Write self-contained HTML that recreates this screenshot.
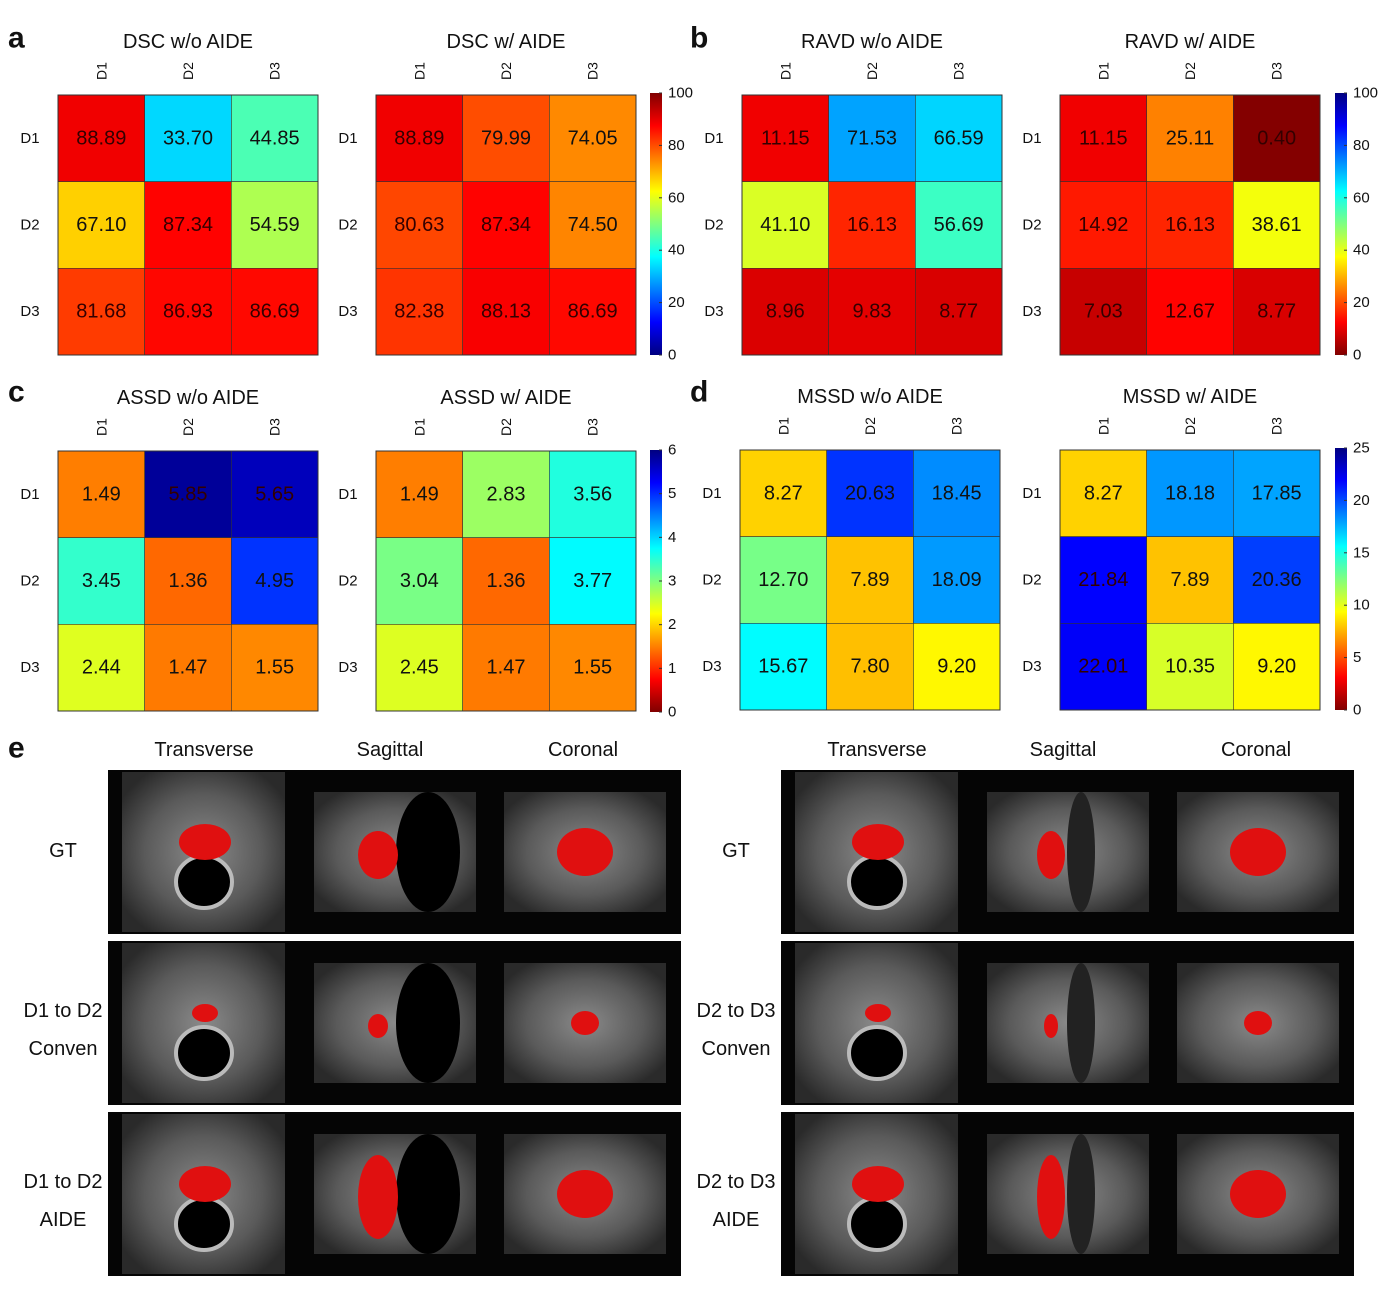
<!DOCTYPE html>
<html><head><meta charset="utf-8"><style>
html,body{margin:0;padding:0;background:#fff;}
svg{display:block;font-family:"Liberation Sans",Arial,sans-serif;}
</style></head><body>
<svg id="fig" width="1387" height="1290" viewBox="0 0 1387 1290" xmlns="http://www.w3.org/2000/svg">
<defs>
<linearGradient id="jetUp" x1="0" y1="1" x2="0" y2="0">
<stop offset="0" stop-color="#000080"/><stop offset="0.125" stop-color="#0000ff"/><stop offset="0.375" stop-color="#00ffff"/><stop offset="0.625" stop-color="#ffff00"/><stop offset="0.875" stop-color="#ff0000"/><stop offset="1" stop-color="#800000"/>
</linearGradient>
<linearGradient id="jetDown" x1="0" y1="0" x2="0" y2="1">
<stop offset="0" stop-color="#000080"/><stop offset="0.125" stop-color="#0000ff"/><stop offset="0.375" stop-color="#00ffff"/><stop offset="0.625" stop-color="#ffff00"/><stop offset="0.875" stop-color="#ff0000"/><stop offset="1" stop-color="#800000"/>
</linearGradient>
<radialGradient id="mri" cx="0.5" cy="0.5" r="0.6">
<stop offset="0" stop-color="#8a8a8a"/><stop offset="0.6" stop-color="#5a5a5a"/><stop offset="1" stop-color="#2a2a2a"/>
</radialGradient>
</defs>
<g id="root"></g>
</svg>
<script>
const domains = ['D1','D2','D3'];
const dscWo = [[88.89,33.70,44.85],[67.10,87.34,54.59],[81.68,86.93,86.69]];
const dscW = [[88.89,79.99,74.05],[80.63,87.34,74.50],[82.38,88.13,86.69]];
const ravdWo = [[11.15,71.53,66.59],[41.10,16.13,56.69],[8.96,9.83,8.77]];
const ravdW = [[11.15,25.11,0.40],[14.92,16.13,38.61],[7.03,12.67,8.77]];
const assdWo = [[1.49,5.85,5.65],[3.45,1.36,4.95],[2.44,1.47,1.55]];
const assdW = [[1.49,2.83,3.56],[3.04,1.36,3.77],[2.45,1.47,1.55]];
const mssdWo = [[8.27,20.63,18.45],[12.70,7.89,18.09],[15.67,7.80,9.20]];
const mssdW = [[8.27,18.18,17.85],[21.84,7.89,20.36],[22.01,10.35,9.20]];
const dscTicks = [0,20,40,60,80,100];
const ravdTicks = [0,20,40,60,80,100];
const assdTicks = [0,1,2,3,4,5,6];
const mssdTicks = [0,5,10,15,20,25];
const viewNames = ['Transverse','Sagittal','Coronal'];
const rowLabelsLeft = [['GT'],['D1 to D2','Conven'],['D1 to D2','AIDE']];
const rowLabelsRight = [['GT'],['D2 to D3','Conven'],['D2 to D3','AIDE']];

const NS='http://www.w3.org/2000/svg';
const root=document.getElementById('root');
function mk(tag,attrs,parent){const e=document.createElementNS(NS,tag);for(const k in attrs)e.setAttribute(k,attrs[k]);(parent||root).appendChild(e);return e;}
function txt(x,y,s,size,parent,extra){const t=mk('text',Object.assign({x:x,y:y,'font-size':size,'text-anchor':'middle','dominant-baseline':'central',fill:'#111'},extra||{}),parent);t.textContent=s;return t;}
function clamp(v){return Math.max(0,Math.min(1,v));}
function jet(x){const r=clamp(1.5-Math.abs(4*x-3)),g=clamp(1.5-Math.abs(4*x-2)),b=clamp(1.5-Math.abs(4*x-1));return 'rgb('+Math.round(r*255)+','+Math.round(g*255)+','+Math.round(b*255)+')';}

function heatmap(x0,y0,size,data,max,reversed,title,name){
  const g=mk('g',{});
  
  
  const cs=size/3;
  const xs=i=>x0+i*cs, ys=j=>y0+j*cs;
  const t=txt(x0+size/2,y0-53,title,20,g);
  
  
  domains.forEach((d,i)=>{
    const cl=txt(xs(i)+cs/2,y0-24,d,14,g,{transform:'rotate(-90 '+(xs(i)+cs/2)+' '+(y0-24)+')'});
    
    
    const rl=txt(x0-28,ys(i)+cs/2,d,15,g);
    
    
  });
  data.forEach((row,j)=>row.forEach((v,i)=>{
    let f=v/max; if(reversed) f=1-f;
    const r=mk('rect',{x:xs(i),y:ys(j),width:cs,height:cs,fill:jet(f),stroke:'#333','stroke-width':0.6},g);
    
    
    const lt=txt(xs(i)+cs/2,ys(j)+cs/2,v.toFixed(2),20,g,{fill:f>0.8||f<0.15?'#300':'#111'});
    
    
  }));
  mk('rect',{x:x0,y:y0,width:size,height:size,fill:'none',stroke:'#333','stroke-width':1},g);
}
function colorbar(x,y0,h,ticks,reversed,name){
  const g=mk('g',{});
  
  
  mk('rect',{x:x,y:y0,width:12,height:h,fill:reversed?'url(#jetDown)':'url(#jetUp)'},g);
  const mx=ticks[ticks.length-1];
  ticks.forEach(tv=>{
    const yy=y0+h-tv/mx*h;
    mk('line',{x1:x+9,x2:x+12,y1:yy,y2:yy,stroke:'#333'},g);
    const t=txt(x+18,yy,String(tv),15,g,{'text-anchor':'start'});
    
    
  });
}
function letter(x,y,s){const t=txt(x,y,s,30,root,{'font-weight':'bold','text-anchor':'start'});
  
  }

letter(8,38,'a');letter(690,38,'b');letter(8,392,'c');letter(690,392,'d');letter(8,748,'e');
heatmap(58,95,260,dscWo,100,false,'DSC w/o AIDE','dsc-without-aide-heatmap');
heatmap(376,95,260,dscW,100,false,'DSC w/ AIDE','dsc-with-aide-heatmap');
colorbar(650,93,262,dscTicks,false,'dsc-colorbar');
heatmap(742,95,260,ravdWo,100,true,'RAVD w/o AIDE','ravd-without-aide-heatmap');
heatmap(1060,95,260,ravdW,100,true,'RAVD w/ AIDE','ravd-with-aide-heatmap');
colorbar(1335,93,262,ravdTicks,true,'ravd-colorbar');
heatmap(58,451,260,assdWo,6,true,'ASSD w/o AIDE','assd-without-aide-heatmap');
heatmap(376,451,260,assdW,6,true,'ASSD w/ AIDE','assd-with-aide-heatmap');
colorbar(650,450,262,assdTicks,true,'assd-colorbar');
heatmap(740,450,260,mssdWo,25,true,'MSSD w/o AIDE','mssd-without-aide-heatmap');
heatmap(1060,450,260,mssdW,25,true,'MSSD w/ AIDE','mssd-with-aide-heatmap');
colorbar(1335,448,262,mssdTicks,true,'mssd-colorbar');

// panel e: MRI image grid
const rowYs=[770,941,1112];
function mriBlock(x0,headersX,labels,labelX,side,name){
  const g=mk('g',{});
  
  
  viewNames.forEach((v,i)=>{const t=txt(headersX[i],750,v,20,g);
    
    });
  rowYs.forEach((y,r)=>{
    mk('rect',{x:x0,y:y,width:573,height:164,fill:'#050505'},g);
    // transverse
    mk('rect',{x:x0+14,y:y+2,width:163,height:160,fill:'url(#mri)'},g);
    mk('ellipse',{cx:x0+96,cy:y+112,rx:28,ry:26,fill:'#000',stroke:'#bbb','stroke-width':4},g);
    // sagittal
    mk('rect',{x:x0+206,y:y+22,width:162,height:120,fill:'url(#mri)'},g);
    if(side==='left') mk('ellipse',{cx:x0+320,cy:y+82,rx:32,ry:60,fill:'#000'},g);
    else mk('ellipse',{cx:x0+300,cy:y+82,rx:14,ry:60,fill:'#222'},g);
    // coronal
    mk('rect',{x:x0+396,y:y+22,width:162,height:120,fill:'url(#mri)'},g);
    const sz=[1,0.5,1][r];
    mk('ellipse',{cx:x0+97,cy:y+72,rx:26*sz,ry:18*sz,fill:'#e01010'},g);
    mk('ellipse',{cx:x0+270,cy:y+85,rx:(side==='left'?20:14)*sz,ry:(r===2?42:24)*sz,fill:'#e01010'},g);
    mk('ellipse',{cx:x0+477,cy:y+82,rx:28*sz,ry:24*sz,fill:'#e01010'},g);
    labels[r].forEach((s,k)=>{
      const yy=labels[r].length===1?y+81:y+70+k*38;
      const t=txt(labelX,yy,s,20,g);
      
      
    });
  });
}
mriBlock(108,[204,390,583],rowLabelsLeft,63,'left','mri-panel-left');
mriBlock(781,[877,1063,1256],rowLabelsRight,736,'right','mri-panel-right');
</script>
</body></html>
